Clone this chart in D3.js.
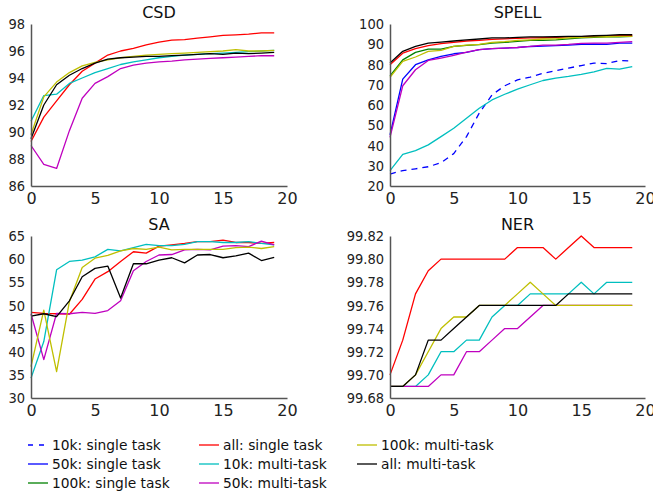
<!DOCTYPE html>
<html><head><meta charset="utf-8">
<script src="https://cdn.jsdelivr.net/npm/d3@7"></script>
<style>body{margin:0;background:#fff;} svg{display:block;font-family:"DejaVu Sans",sans-serif;}</style>
</head><body><svg id="c" width="653" height="495"></svg>
<script>
const epochs = [0,1,2,3,4,5,6,7,8,9,10,11,12,13,14,15,16,17,18,19];
const xTicks = [0,5,10,15,20];
const seriesNames = ["10k: single task","50k: single task","100k: single task","all: single task",
                     "10k: multi-task","50k: multi-task","100k: multi-task","all: multi-task"];
const seriesColors = ["#0000ff","#0000ff","#008000","#ff0000","#00bfbf","#bf00bf","#bfbf00","#000000"];
const seriesDashed = [true,false,false,false,false,false,false,false];

// CSD
const csdTitle = "CSD";
const csdTicks = [86,88,90,92,94,96,98];
const csd_all_single = [89.3,91.1,92.3,93.5,94.5,95.1,95.7,96.0,96.2,96.45,96.65,96.8,96.85,96.95,97.05,97.15,97.2,97.25,97.35,97.35];
const csd_10k_multi  = [90.8,92.7,92.8,93.6,94.0,94.4,94.7,95.0,95.2,95.35,95.5,95.6,95.7,95.75,95.8,95.85,95.9,95.95,96.0,96.05];
const csd_50k_multi  = [89.0,87.6,87.3,90.1,92.5,93.6,94.1,94.7,94.95,95.1,95.2,95.25,95.35,95.4,95.45,95.5,95.55,95.6,95.65,95.65];
const csd_100k_multi = [89.8,92.6,93.7,94.4,94.9,95.15,95.35,95.5,95.6,95.7,95.75,95.8,95.85,95.9,95.95,96.0,96.1,96.0,96.0,96.05];
const csd_all_multi  = [89.5,92.0,93.5,94.2,94.7,95.1,95.4,95.5,95.55,95.6,95.6,95.65,95.7,95.75,95.8,95.75,95.85,95.8,95.85,95.9];

// SPELL
const spellTitle = "SPELL";
const spellTicks = [20,30,40,50,60,70,80,90,100];
const spell_10k_single  = [25.9,27.6,28.5,29.5,31.5,36.0,44.4,56.0,65.0,69.5,72.4,73.8,75.7,76.9,78.2,79.5,80.7,80.4,82.0,81.7];
const spell_50k_single  = [45.2,72.8,79.9,82.3,84.0,85.3,86.0,87.3,87.8,88.1,88.4,88.9,89.1,89.3,89.6,89.9,90.1,89.9,90.6,90.6];
const spell_100k_single = [74.4,82.3,86.0,87.6,87.6,88.9,89.4,89.8,90.6,90.9,91.4,91.9,91.9,92.2,92.7,93.1,93.4,93.6,93.7,93.9];
const spell_all_single  = [79.9,85.6,87.8,89.3,90.3,90.9,91.6,91.9,92.4,92.7,92.9,93.1,93.2,93.4,93.6,93.7,93.9,94.1,94.2,94.4];
const spell_10k_multi   = [27.6,35.6,37.5,40.3,44.4,48.5,53.5,58.4,62.5,65.3,67.8,70.0,72.1,73.3,74.1,75.1,76.4,78.1,77.7,79.0];
const spell_50k_multi   = [44.0,69.5,77.4,82.0,83.2,84.5,86.1,87.3,87.8,88.1,88.4,88.9,89.6,89.6,89.9,90.4,90.6,90.6,90.9,91.3];
const spell_100k_multi  = [73.6,81.5,83.7,86.5,87.0,88.9,89.6,89.9,90.9,91.3,91.9,92.2,92.6,92.7,93.1,93.4,93.6,93.7,93.9,93.9];
const spell_all_multi   = [80.7,86.5,88.9,90.6,91.1,91.6,92.2,92.6,93.1,93.1,93.4,93.6,93.6,93.7,93.9,93.9,94.2,94.4,94.7,94.7];

// SA
const saTitle = "SA";
const saTicks = [30,35,40,45,50,55,60,65];
const sa_all_single = [48.5,48.3,48.2,48.1,51.3,55.7,57.3,59.5,61.6,61.3,62.8,63.1,63.4,63.8,63.8,64.1,63.6,63.6,63.4,63.6];
const sa_10k_multi  = [34.3,42.2,57.7,59.5,59.8,60.5,62.1,61.8,62.5,63.2,62.9,62.9,63.2,63.8,63.8,63.6,63.6,63.8,63.4,63.1];
const sa_50k_multi  = [48.2,38.3,48.3,48.2,48.5,48.3,48.9,51.0,57.5,59.5,60.9,61.0,62.0,62.1,62.0,62.8,62.9,62.7,63.9,63.1];
const sa_100k_multi = [36.8,49.0,35.7,50.8,58.2,60.2,60.8,61.8,62.3,62.1,62.6,62.0,62.1,62.1,62.1,62.1,62.5,62.6,62.3,62.7];
const sa_all_multi  = [47.7,48.2,47.6,51.0,56.2,58.0,58.5,51.6,59.0,59.0,59.8,60.3,59.2,60.9,61.0,60.3,60.7,61.3,59.7,60.4];

// NER
const nerTitle = "NER";
const nerTicks = [99.68,99.70,99.72,99.74,99.76,99.78,99.80,99.82];
const ner_all_single = [99.70,99.73,99.77,99.79,99.80,99.80,99.80,99.80,99.80,99.80,99.81,99.81,99.81,99.80,99.81,99.82,99.81,99.81,99.81,99.81];
const ner_10k_multi  = [99.69,99.69,99.69,99.70,99.72,99.72,99.73,99.73,99.75,99.76,99.76,99.77,99.77,99.77,99.77,99.78,99.77,99.78,99.78,99.78];
const ner_50k_multi  = [99.69,99.69,99.69,99.69,99.70,99.70,99.72,99.72,99.73,99.74,99.74,99.75,99.76,99.76,99.76,99.76,99.76,99.76,99.76,99.76];
const ner_100k_multi = [99.69,99.69,99.70,99.72,99.74,99.75,99.75,99.76,99.76,99.76,99.77,99.78,99.77,99.76,99.76,99.76,99.76,99.76,99.76,99.76];
const ner_all_multi  = [99.69,99.69,99.70,99.73,99.73,99.74,99.75,99.76,99.76,99.76,99.76,99.76,99.76,99.76,99.77,99.77,99.77,99.77,99.77,99.77];

const panels = [
  {title: csdTitle, ticks: csdTicks, fmt: d3.format("d"), box: {l:31, r:287, t:24, b:186},
   series: [[3, csd_all_single],[4, csd_10k_multi],[5, csd_50k_multi],[6, csd_100k_multi],[7, csd_all_multi]]},
  {title: spellTitle, ticks: spellTicks, fmt: d3.format("d"), box: {l:390, r:645, t:24, b:186},
   series: [[0, spell_10k_single],[1, spell_50k_single],[2, spell_100k_single],[3, spell_all_single],
            [4, spell_10k_multi],[5, spell_50k_multi],[6, spell_100k_multi],[7, spell_all_multi]]},
  {title: saTitle, ticks: saTicks, fmt: d3.format("d"), box: {l:31, r:287, t:236, b:398},
   series: [[3, sa_all_single],[4, sa_10k_multi],[5, sa_50k_multi],[6, sa_100k_multi],[7, sa_all_multi]]},
  {title: nerTitle, ticks: nerTicks, fmt: d3.format(".2f"), box: {l:390, r:645, t:236, b:398},
   series: [[3, ner_all_single],[4, ner_10k_multi],[5, ner_50k_multi],[6, ner_100k_multi],[7, ner_all_multi]]}
];

const svg = d3.select("#c");
const axisColor = "#555";
const yScaleX = 0.9;

panels.forEach(p => {
  const x = d3.scaleLinear().domain([0, 20]).range([p.box.l, p.box.r]);
  const y = d3.scaleLinear().domain([p.ticks[0], p.ticks[p.ticks.length-1]]).range([p.box.b, p.box.t]);
  const g = svg.append("g");

  const line = d3.line().x((d,i) => x(epochs[i])).y(d => y(d));
  p.series.forEach(([si, vals]) => {
    g.append("path").datum(vals)
      .attr("d", line)
      .attr("fill", "none")
      .attr("stroke", seriesColors[si])
      .attr("stroke-width", 1.3)
      .attr("stroke-dasharray", seriesDashed[si] ? "6,5" : null)
      .attr("stroke-linejoin", "round");
  });

  const ya = g.append("g").attr("transform", `translate(${p.box.l},0)`)
    .call(d3.axisLeft(y).tickValues(p.ticks).tickFormat(p.fmt).tickSize(0).tickPadding(6));
  const xa = g.append("g").attr("transform", `translate(0,${p.box.b})`)
    .call(d3.axisBottom(x).tickValues(xTicks).tickFormat(d3.format("d")).tickSize(0).tickPadding(7));
  [ya, xa].forEach(a => {
    a.select(".domain").attr("stroke", axisColor).attr("stroke-width", 1.5);
    a.selectAll("text").attr("fill", "#222").attr("font-family", "DejaVu Sans");
  });
  ya.selectAll("text").attr("font-size", 14.5)
    .attr("x", -6 / yScaleX)
    .attr("transform", `scale(${yScaleX},1)`);
  xa.selectAll("text").attr("font-size", 16);

  g.append("text")
    .attr("x", (p.box.l + p.box.r) / 2)
    .attr("y", p.box.t - 6)
    .attr("text-anchor", "middle")
    .attr("font-size", 16)
    .attr("fill", "#111")
    .text(p.title);
});

// Legend
const legendCols = [28, 199, 357];
const legendRows = [445, 464, 483];
const lg = svg.append("g");
seriesNames.forEach((name, i) => {
  const cx = legendCols[Math.floor(i / 3)];
  const cy = legendRows[i % 3];
  lg.append("line")
    .attr("x1", cx).attr("x2", cx + 20).attr("y1", cy).attr("y2", cy)
    .attr("stroke", seriesColors[i]).attr("stroke-width", 1.3)
    .attr("stroke-dasharray", seriesDashed[i] ? "5,6" : null);
  lg.append("text")
    .attr("x", cx + 24).attr("y", cy).attr("dy", "0.35em")
    .attr("font-size", 13.8).attr("fill", "#111")
    .text(name);
});
</script></body></html>
